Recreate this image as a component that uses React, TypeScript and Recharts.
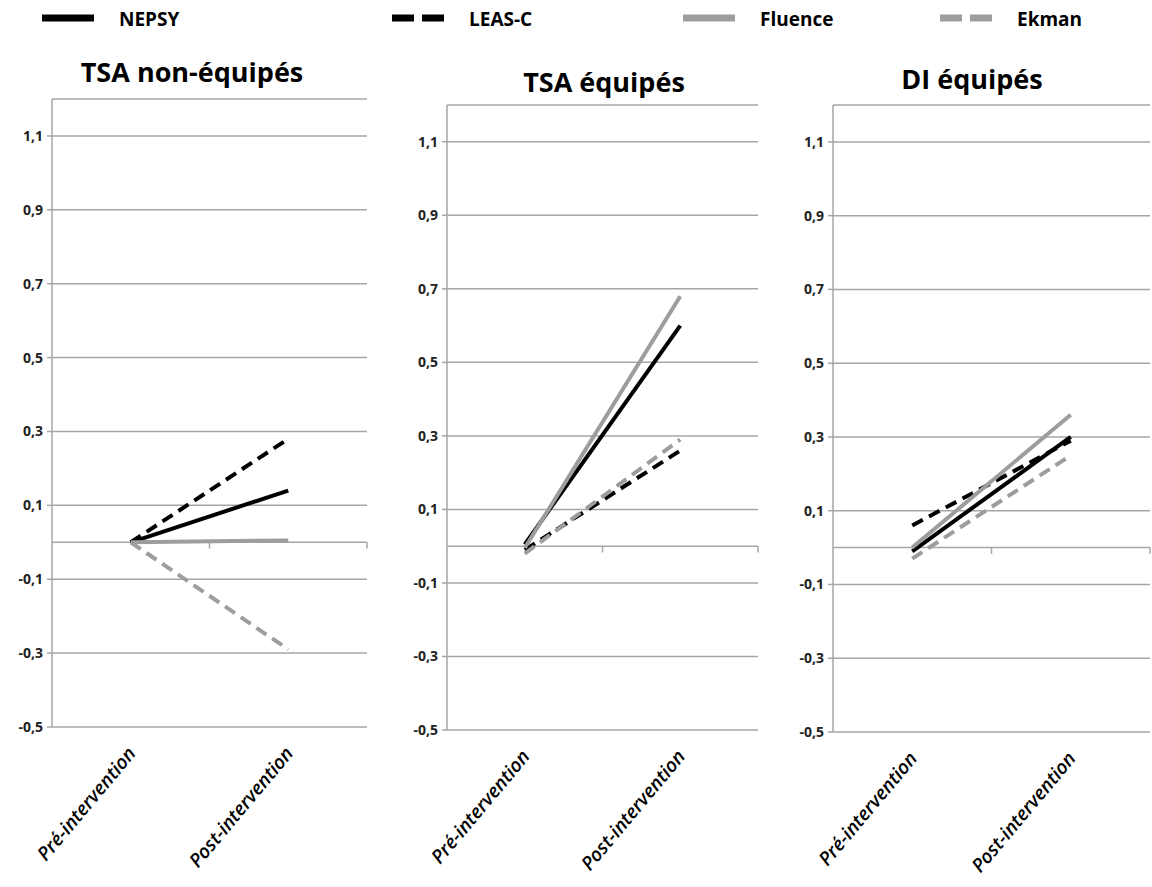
import React from "react"
import {
  CartesianGrid,
  Line,
  LineChart,
  ReferenceLine,
  XAxis,
  YAxis,
} from "recharts"

// categories + series
const categories = ["Pré-intervention", "Post-intervention"]
const seriesNames = ["NEPSY", "LEAS-C", "Fluence", "Ekman"]
const seriesColors = ["#000000", "#000000", "#9d9d9d", "#9d9d9d"]
const seriesDash = ["", "12 7", "", "12 7"]

// TSA non-équipés
const tsaNonNepsy = [0, 0.14]
const tsaNonLeas = [0, 0.28]
const tsaNonFluence = [0, 0.005]
const tsaNonEkman = [0, -0.29]

// TSA équipés
const tsaEqNepsy = [0.005, 0.6]
const tsaEqLeas = [-0.01, 0.26]
const tsaEqFluence = [-0.005, 0.68]
const tsaEqEkman = [-0.02, 0.29]

// DI équipés
const diEqNepsy = [-0.01, 0.3]
const diEqLeas = [0.06, 0.29]
const diEqFluence = [0.0, 0.36]
const diEqEkman = [-0.03, 0.25]

const yTicks = [-0.5, -0.3, -0.1, 0.1, 0.3, 0.5, 0.7, 0.9, 1.1]
const yDomain = [-0.5, 1.2]

const buildRows = (cols: number[][]) =>
  categories.map((c, i) => {
    const row: any = { cat: c }
    seriesNames.forEach((s, j) => {
      row[s] = cols[j][i]
    })
    return row
  })

// plotH = height of the plotting area for each panel, charts run to the bottom of the page
const panels = [
  {
    title: "TSA non-équipés",
    data: buildRows([tsaNonNepsy, tsaNonLeas, tsaNonFluence, tsaNonEkman]),
    left: 2, top: 89, width: 370, plotH: 628, right: 5, titleX: 192, titleY: 73,
  },
  {
    title: "TSA équipés",
    data: buildRows([tsaEqNepsy, tsaEqLeas, tsaEqFluence, tsaEqEkman]),
    left: 397, top: 95, width: 366, plotH: 625, right: 5, titleX: 604, titleY: 83,
  },
  {
    title: "DI équipés",
    data: buildRows([diEqNepsy, diEqLeas, diEqFluence, diEqEkman]),
    left: 783, top: 95, width: 369, plotH: 627, right: 2, titleX: 972, titleY: 80,
  },
]

const FONT = "'Open Sans', 'DejaVu Sans', sans-serif"
const GRID = "#a6a6a6"

const XTick = (props: any) => {
  const { x, y, payload } = props
  const ax = x + 6
  const ay = y + 19
  return (
    <text
      x={ax}
      y={ay}
      transform={`rotate(-50, ${ax}, ${ay})`}
      textAnchor="end"
      fontFamily={FONT}
      fontStyle="italic"
      fontWeight={600}
      fontSize={19}
      fill="#000"
    >
      {payload.value}
    </text>
  )
}

const legendX = [42, 392, 683, 940]

const Legend = () => (
  <svg width={1152} height={40} style={{ position: "absolute", left: 0, top: 0 }}>
    {seriesNames.map((s, i) => (
      <g key={s}>
        <line
          x1={legendX[i]}
          x2={legendX[i] + 52}
          y1={18}
          y2={18}
          stroke={seriesColors[i]}
          strokeWidth={7}
          strokeDasharray={seriesDash[i] ? "22 8" : undefined}
        />
        <text
          x={legendX[i] + 77}
          y={26}
          fontFamily={FONT}
          fontWeight={700}
          fontSize={19}
          fill="#000"
        >
          {s}
        </text>
      </g>
    ))}
  </svg>
)

export default function App() {
  return (
    <div
      style={{
        position: "absolute",
        left: 0,
        top: 0,
        width: 1152,
        height: 887,
        background: "#fff",
        overflow: "hidden",
      }}
    >
      <Legend />
      {panels.map((p) => {
        const h = 887 - p.top
        return (
          <React.Fragment key={p.title}>
            <div
              style={{
                position: "absolute",
                left: p.titleX - 150,
                width: 300,
                top: p.titleY - 20,
                textAlign: "center",
                fontFamily: FONT,
                fontWeight: 700,
                fontSize: 27,
                lineHeight: "38px",
                color: "#000",
              }}
            >
              {p.title}
            </div>
            <div style={{ position: "absolute", left: p.left, top: p.top }}>
              <LineChart
                width={p.width}
                height={h}
                data={p.data}
                margin={{ top: 10, right: p.right, left: 0, bottom: 0 }}
              >
                <CartesianGrid vertical={false} stroke={GRID} strokeWidth={1.5} />
                <XAxis
                  dataKey="cat"
                  scale="band"
                  height={h - 10 - p.plotH}
                  axisLine={false}
                  tickLine={false}
                  interval={0}
                  tick={<XTick />}
                />
                <YAxis
                  type="number"
                  domain={yDomain}
                  ticks={yTicks}
                  width={50}
                  axisLine={{ stroke: GRID, strokeWidth: 1.5 }}
                  tickLine={{ stroke: GRID, strokeWidth: 1.5 }}
                  tickSize={5}
                  tickMargin={4}
                  tickFormatter={(v: number) => v.toFixed(1).replace(".", ",")}
                  tick={{ fontFamily: FONT, fontSize: 14, fontWeight: 700, fill: "#222" }}
                />
                <ReferenceLine y={0} stroke={GRID} strokeWidth={1.5} />
                <ReferenceLine
                  segment={[
                    { x: categories[1], y: 0 },
                    { x: categories[1], y: -0.017 },
                  ]}
                  position="start"
                  stroke={GRID}
                  strokeWidth={1.5}
                />
                <ReferenceLine
                  segment={[
                    { x: categories[1], y: 0 },
                    { x: categories[1], y: -0.017 },
                  ]}
                  position="end"
                  stroke={GRID}
                  strokeWidth={1.5}
                />
                {seriesNames.map((s, i) => (
                  <Line
                    key={s}
                    dataKey={s}
                    type="linear"
                    stroke={seriesColors[i]}
                    strokeWidth={4}
                    strokeDasharray={seriesDash[i] || undefined}
                    dot={false}
                    activeDot={false}
                    isAnimationActive={false}
                  />
                ))}
              </LineChart>
            </div>
          </React.Fragment>
        )
      })}
    </div>
  )
}
